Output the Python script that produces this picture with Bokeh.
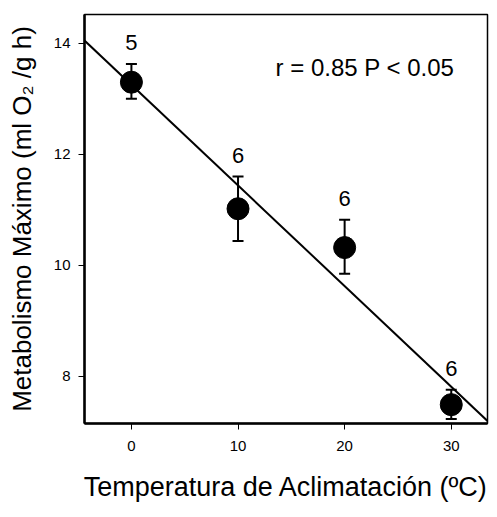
import numpy as np
from bokeh.plotting import figure
from bokeh.models import ColumnDataSource, Whisker, TeeHead, Label, FixedTicker, Range1d
from bokeh.embed import file_html
from bokeh.resources import INLINE
from bokeh.core.properties import value

temperature = [0, 10, 20, 30]
metabolism = [13.30, 11.02, 10.32, 7.49]
err_upper = [13.63, 11.60, 10.82, 7.76]
err_lower = [13.00, 10.44, 9.85, 7.23]
n_labels = ["5", "6", "6", "6"]
x_ticks = [0, 10, 20, 30]
y_ticks = [8, 10, 12, 14]
stat_text = "r = 0.85 P < 0.05"

FONT = "Liberation Sans"

src = ColumnDataSource(dict(x=temperature, y=metabolism, up=err_upper, lo=err_lower, n=n_labels))

p = figure(width=489, height=509, output_backend="svg", toolbar_location=None,
           x_range=Range1d(-4.4, 33.4), y_range=Range1d(7.15, 14.52),
           min_border_left=84, min_border_right=2, min_border_top=14, min_border_bottom=86)

p.xgrid.visible = False
p.ygrid.visible = False
p.outline_line_color = "black"
p.outline_line_width = 1.5
p.outline_line_alpha = 1.0

for ax in (p.xaxis[0], p.yaxis[0]):
    ax.axis_line_width = 2.5
    ax.major_tick_out = 6
    ax.major_tick_in = 0
    ax.minor_tick_line_color = None
    ax.major_label_text_font = FONT
    ax.major_label_text_font_size = "15px"
    ax.major_label_text_color = "black"
    ax.axis_label_text_font = FONT
    ax.axis_label_text_font_style = "normal"
    ax.axis_label_text_color = "black"

p.xaxis.ticker = FixedTicker(ticks=x_ticks)
p.yaxis.ticker = FixedTicker(ticks=y_ticks)
p.xaxis.major_label_standoff = 11
p.yaxis.major_label_standoff = 8
p.xaxis.axis_label = "Temperatura de Aclimatación (ºC)"
p.yaxis.axis_label = "Metabolismo Máximo (ml O₂ /g h)"
p.xaxis.axis_label_text_font_size = "27px"
p.yaxis.axis_label_text_font_size = "26px"
p.xaxis.axis_label_standoff = 18
p.yaxis.axis_label_standoff = 14

# regression line fitted to the data
slope, intercept = np.polyfit(temperature, metabolism, 1)
xr = [-4.4, 33.4]
p.line(xr, [intercept + slope * v for v in xr], line_color="black", line_width=2)

w = Whisker(source=src, base="x", upper="up", lower="lo", line_color="black", line_width=2,
            upper_head=TeeHead(size=11, line_width=2, line_color="black"),
            lower_head=TeeHead(size=11, line_width=2, line_color="black"))
p.add_layout(w)

p.scatter("x", "y", source=src, size=22, fill_color="black", line_color="black")

p.text("x", "up", text="n", source=src, text_font=value(FONT), text_font_size="22px",
       text_align="center", text_baseline="middle", y_offset=-21, text_color="black")

p.add_layout(Label(x=13.52, y=13.56, text=stat_text, text_font=FONT, text_font_size="24px",
                   text_align="left", text_baseline="middle", text_color="black"))

open("out.html", "w").write(file_html(p, INLINE))
